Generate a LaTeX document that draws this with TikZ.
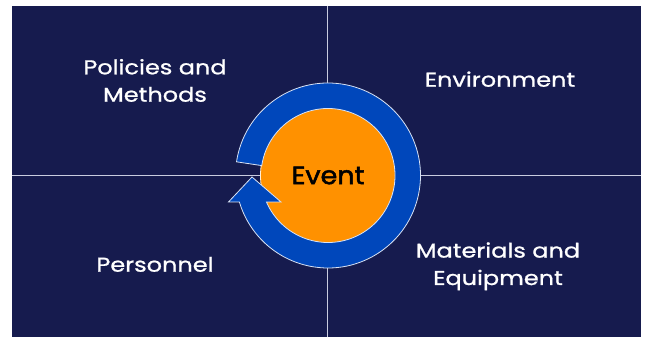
\documentclass[tikz,border=0pt]{standalone}
\usepackage{fontspec}
\setmainfont{Poppins}
\newfontfamily\labelfont{Poppins}[FakeStretch=1.2,FakeBold=1]
\newfontfamily\eventfont{Poppins}[FakeStretch=1.08,FakeBold=2]
\definecolor{navy}{HTML}{161B4E}
\definecolor{ringblue}{HTML}{0047BB}
\definecolor{eventorange}{HTML}{FF9100}
\definecolor{gridline}{HTML}{C9CCE0}
\begin{document}
\begin{tikzpicture}[x=1pt,y=1pt,
  quadtext/.style={text=white,font=\labelfont\fontsize{20}{27.4}\selectfont,align=center,anchor=base,inner sep=0pt},
  outline/.style={draw=white!85!ringblue,line width=0.8pt}]
\useasboundingbox (0,0) rectangle (649,337);
% dark panel
\fill[navy] (12,0) rectangle (641,331);
% quadrant divider lines
\coordinate (top) at (327,331);
\coordinate (bottom) at (327,0);
\coordinate (left) at (12,162);
\coordinate (right) at (641,162);
\draw[gridline,line width=0.9pt] (top) -- (bottom);
\draw[gridline,line width=0.9pt] (left) -- (right);
% the event disc
\coordinate (C) at (328,161.5);
\node[circle,fill=eventorange,draw=white!85!eventorange,line width=0.8pt,
      minimum size=135pt,inner sep=0pt,
      font=\eventfont\fontsize{25}{30}\selectfont,text=black] (event) at (C) {Event};
% circular arrow around the event, its head overlapping the disc
\begin{scope}[shift={(C)}]
  \fill[ringblue,outline]
    (171.5:92.5) arc[start angle=171.5,end angle=-163.35,radius=92.5]
    -- (-99.5,-26.5) -- (-76,-1.5) -- (-47,-26.5)
    -- (-156.7:67) arc[start angle=-156.7,end angle=171.5,radius=67]
    -- cycle;
\end{scope}
% quadrant labels (base anchor sits on the last line)
\node[quadtext] (policies) at (155,235.3) {Policies and\\Methods};
\node[quadtext] (environment) at (500,250.3) {Environment};
\node[quadtext] (materials) at (498,52) {Materials and\\Equipment};
\node[quadtext] (personnel) at (155,65.3) {Personnel};
\end{tikzpicture}
\end{document}
